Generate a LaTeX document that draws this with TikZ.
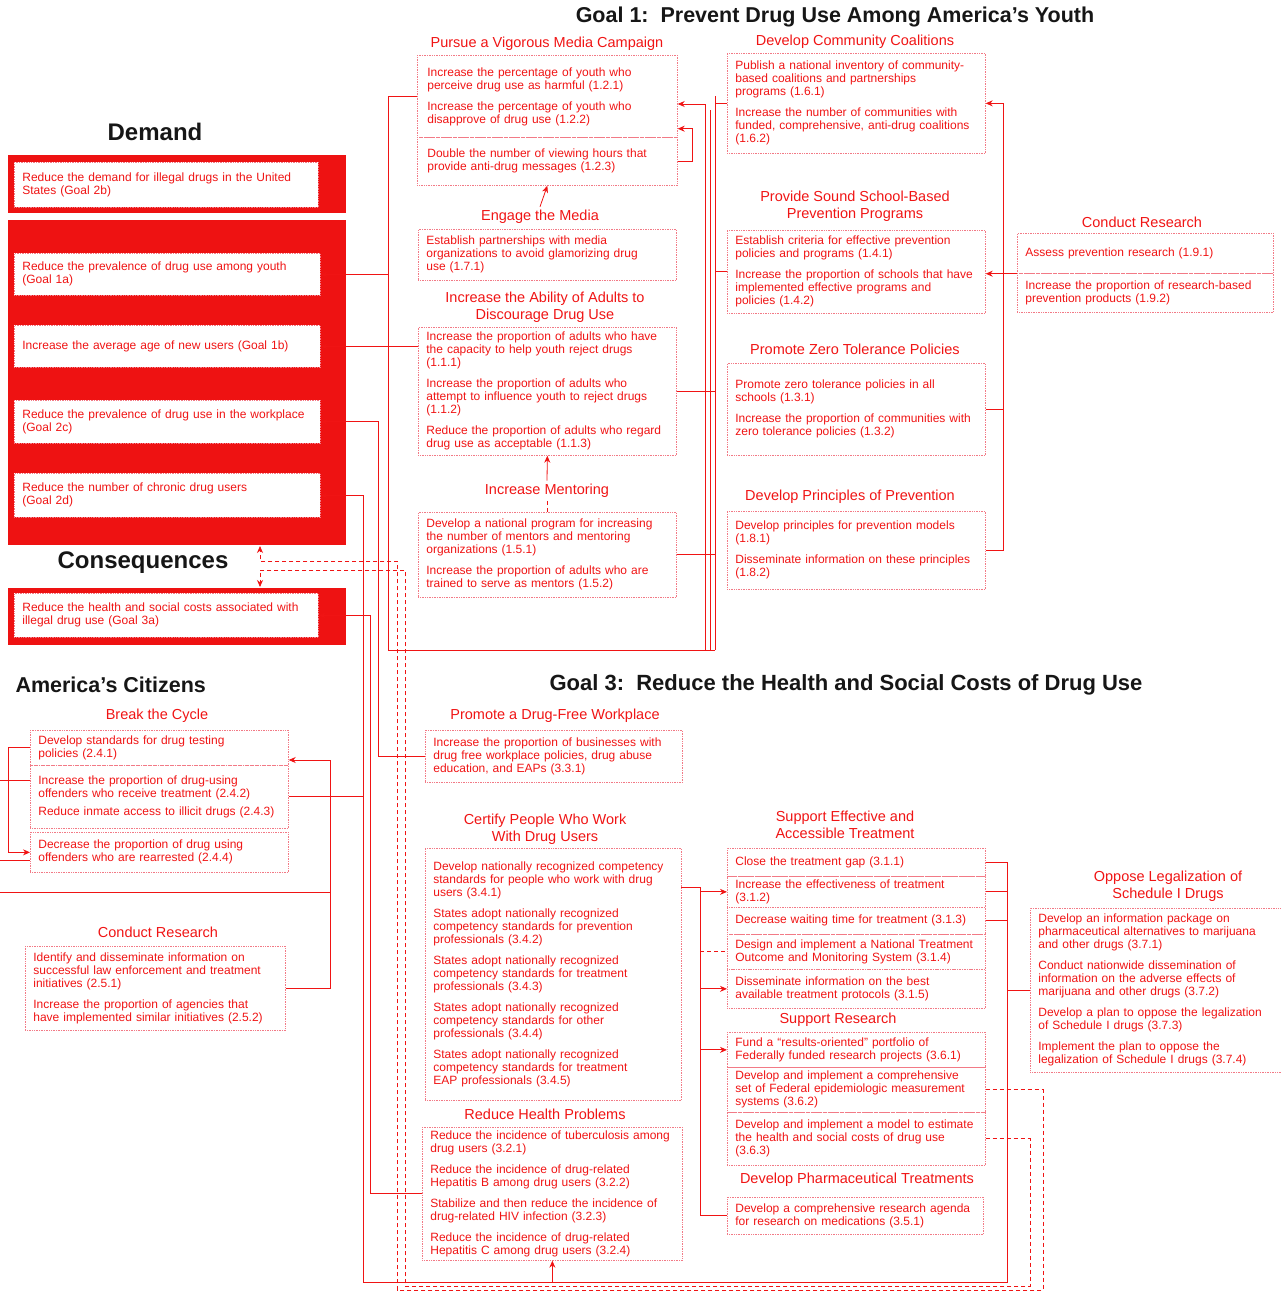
\documentclass[tikz,border=0pt]{standalone}
\usepackage{fontspec}
\setmainfont{Liberation Sans}
\usetikzlibrary{arrows.meta,calc}
\definecolor{PlanRed}{HTML}{F01414}
\definecolor{PanelRed}{HTML}{EE1212}
\definecolor{FrameRed}{HTML}{F27A86}
\definecolor{TitleBlack}{HTML}{161616}
\newcommand{\itemgap}{\\[8pt]}

\begin{document}
\begin{tikzpicture}[x=1pt, y=-1pt, >={Stealth[length=7pt,width=6pt]},
  objbox/.style={draw=FrameRed, line width=0.7pt, densely dotted, anchor=north west,
    align=left, text=PlanRed, font=\fontsize{12}{13}\selectfont, inner xsep=8pt, inner ysep=2pt},
  goalbox/.style={objbox, fill=white},
  objtitle/.style={text=PlanRed, align=center, font=\fontsize{14.5}{17}\selectfont},
  headtitle/.style={text=TitleBlack, font=\fontsize{21.5}{24}\selectfont\bfseries},
  bigtitle/.style={text=TitleBlack, font=\fontsize{24}{26}\selectfont\bfseries},
  redpanel/.style={fill=PanelRed},
  link/.style={PlanRed, line width=0.8pt},
  dlink/.style={PlanRed, line width=0.8pt, dash pattern=on 4pt off 3pt}]
  \useasboundingbox (0,0) rectangle (1281,1293);

  % bus lines used by the connectors
  \coordinate (busA) at (388,0);
  \coordinate (busB) at (363,0);
  \coordinate (busC) at (378,0);
  \coordinate (busD) at (370,0);
  \coordinate (busE) at (700,0);
  \coordinate (busK) at (715,0);
  \coordinate (busR) at (1003,0);
  \coordinate (busT) at (1007,0);
  \coordinate (baseM) at (0,650);
  \coordinate (baseS) at (0,1282);

  % headings
  \node[headtitle] (hGoal1) at (835,17) {Goal 1:\ \ Prevent Drug Use Among America's Youth};
  \node[headtitle, font=\fontsize{22}{24}\selectfont\bfseries] (hGoal3) at (846,685) {Goal 3:\ \ Reduce the Health and Social Costs of Drug Use};
  \node[headtitle, anchor=west] (hCitizens) at (12,685) {America's Citizens};
  \node[bigtitle] (hDemand) at (155,132) {Demand};
  \node[bigtitle] (hConseq) at (143,563) {Consequences};

  % Demand and consequences panels
  \fill[redpanel] (8,155) rectangle (346,213);
  \fill[redpanel] (8,220) rectangle (346,545);
  \fill[redpanel] (8,588) rectangle (346,645);
  \node[goalbox, text width=288pt, minimum height=45pt] (g2b) at (14,162)
    {Reduce the demand for illegal drugs in the United\\States (Goal 2b)};
  \node[goalbox, text width=290pt, minimum height=42pt] (g1a) at (14,253)
    {Reduce the prevalence of drug use among youth\\(Goal 1a)};
  \node[goalbox, text width=290pt, minimum height=42pt] (g1b) at (14,325)
    {Increase the average age of new users (Goal 1b)};
  \node[goalbox, text width=290pt, minimum height=43pt] (g2c) at (14,400)
    {Reduce the prevalence of drug use in the workplace\\(Goal 2c)};
  \node[goalbox, text width=290pt, minimum height=44pt] (g2d) at (14,473)
    {Reduce the number of chronic drug users\\(Goal 2d)};
  \node[goalbox, text width=288pt, minimum height=44pt] (g3a) at (14,593)
    {Reduce the health and social costs associated with\\illegal drug use (Goal 3a)};

  % Goal 1 objectives
  \node[objtitle] (tMedia) at (547,44) {Pursue a Vigorous Media Campaign};
  \node[objbox, text width=240pt, minimum height=82pt, inner xsep=10pt, inner ysep=8pt] (med1) at (417,55)
    {\\[-4pt]Increase the percentage of youth who\\perceive drug use as harmful (1.2.1)\itemgap
     Increase the percentage of youth who\\disapprove of drug use (1.2.2)};
  \node[objbox, text width=240pt, minimum height=48pt, inner xsep=10pt] (med2) at (417,137)
    {Double the number of viewing hours that\\provide anti-drug messages (1.2.3)};
  \node[objtitle] (tEngage) at (540,217) {Engage the Media};
  \node[objbox, text width=242pt, minimum height=51pt] (engage) at (418,229)
    {Establish partnerships with media\\organizations to avoid glamorizing drug\\use (1.7.1)};
  \node[objtitle] (tAdults) at (545,307) {Increase the Ability of Adults to\\Discourage Drug Use};
  \node[objbox, text width=242pt, minimum height=128pt] (adults) at (418,327)
    {Increase the proportion of adults who have\\the capacity to help youth reject drugs\\(1.1.1)\itemgap
     Increase the proportion of adults who\\attempt to influence youth to reject drugs\\(1.1.2)\itemgap
     Reduce the proportion of adults who regard\\drug use as acceptable (1.1.3)};
  \node[objtitle] (tMentor) at (547,491) {Increase Mentoring};
  \node[objbox, text width=242pt, minimum height=85pt] (mentor) at (418,512)
    {Develop a national program for increasing\\the number of mentors and mentoring\\organizations (1.5.1)\itemgap
     Increase the proportion of adults who are\\trained to serve as mentors (1.5.2)};

  \node[objtitle] (tCoal) at (855,42) {Develop Community Coalitions};
  \node[objbox, text width=242pt, minimum height=100pt] (coal) at (727,53)
    {Publish a national inventory of community-\\based coalitions and partnerships\\programs (1.6.1)\itemgap
     Increase the number of communities with\\funded, comprehensive, anti-drug coalitions\\(1.6.2)};
  \node[objtitle] (tSchool) at (855,206) {Provide Sound School-Based\\Prevention Programs};
  \node[objbox, text width=242pt, minimum height=83pt] (school) at (727,230)
    {Establish criteria for effective prevention\\policies and programs (1.4.1)\itemgap
     Increase the proportion of schools that have\\implemented effective programs and\\policies (1.4.2)};
  \node[objtitle] (tZero) at (855,349) {Promote Zero Tolerance Policies};
  \node[objbox, text width=242pt, minimum height=92pt] (zero) at (727,363)
    {Promote zero tolerance policies in all\\schools (1.3.1)\itemgap
     Increase the proportion of communities with\\zero tolerance policies (1.3.2)};
  \node[objtitle] (tPrinc) at (850,497) {Develop Principles of Prevention};
  \node[objbox, text width=242pt, minimum height=78pt] (princ) at (727,511)
    {Develop principles for prevention models\\(1.8.1)\itemgap
     Disseminate information on these principles\\(1.8.2)};
  \node[objtitle] (tCR1) at (1142,222) {Conduct Research};
  \node[objbox, text width=240pt, minimum height=40pt] (cr1) at (1017,233)
    {Assess prevention research (1.9.1)};
  \node[objbox, text width=240pt, minimum height=39pt] (cr2) at (1017,273)
    {Increase the proportion of research-based\\prevention products (1.9.2)};

  % Goal 2 objectives
  \node[objtitle] (tCycle) at (157,716) {Break the Cycle};
  \node[objbox, text width=242pt, minimum height=35pt] (cyc1) at (30,730)
    {Develop standards for drug testing\\policies (2.4.1)};
  \node[objbox, text width=242pt, minimum height=63pt] (cyc2) at (30,765)
    {Increase the proportion of drug-using\\offenders who receive treatment (2.4.2)\\[5pt]
     Reduce inmate access to illicit drugs (2.4.3)};
  \node[objbox, text width=242pt, minimum height=40pt] (cyc3) at (30,832)
    {Decrease the proportion of drug using\\offenders who are rearrested (2.4.4)};
  \node[objtitle] (tCR2) at (158,932) {Conduct Research};
  \node[objbox, text width=244pt, minimum height=84pt] (res2) at (25,946)
    {Identify and disseminate information on\\successful law enforcement and treatment\\initiatives (2.5.1)\itemgap
     Increase the proportion of agencies that\\have implemented similar initiatives (2.5.2)};

  % Goal 3 objectives
  \node[objtitle] (tWork) at (555,716) {Promote a Drug-Free Workplace};
  \node[objbox, text width=241pt, minimum height=52pt] (work) at (425,730)
    {Increase the proportion of businesses with\\drug free workplace policies, drug abuse\\education, and EAPs (3.3.1)};
  \node[objtitle] (tCert) at (545,829) {Certify People Who Work\\With Drug Users};
  \node[objbox, text width=240pt, minimum height=252pt] (cert) at (425,848)
    {Develop nationally recognized competency\\standards for people who work with drug\\users (3.4.1)\itemgap
     States adopt nationally recognized\\competency standards for prevention\\professionals (3.4.2)\itemgap
     States adopt nationally recognized\\competency standards for treatment\\professionals (3.4.3)\itemgap
     States adopt nationally recognized\\competency standards for other\\professionals (3.4.4)\itemgap
     States adopt nationally recognized\\competency standards for treatment\\EAP professionals (3.4.5)};
  \node[objtitle] (tHealth) at (545,1114) {Reduce Health Problems};
  \node[objbox, text width=244pt, minimum height=133pt] (health) at (422,1127)
    {Reduce the incidence of tuberculosis among\\drug users (3.2.1)\itemgap
     Reduce the incidence of drug-related\\Hepatitis B among drug users (3.2.2)\itemgap
     Stabilize and then reduce the incidence of\\drug-related HIV infection (3.2.3)\itemgap
     Reduce the incidence of drug-related\\Hepatitis C among drug users (3.2.4)};

  \node[objtitle] (tTreat) at (845,825) {Support Effective and\\Accessible Treatment};
  \node[objbox, text width=242pt, minimum height=28pt] (tr1) at (727,848)
    {Close the treatment gap (3.1.1)};
  \node[objbox, text width=242pt, minimum height=31pt, inner ysep=1pt] (tr2) at (727,876)
    {Increase the effectiveness of treatment\\(3.1.2)};
  \node[objbox, text width=242pt, minimum height=27pt] (tr3) at (727,907)
    {Decrease waiting time for treatment (3.1.3)};
  \node[objbox, text width=242pt, minimum height=35pt, inner ysep=1pt] (tr4) at (727,934)
    {Design and implement a National Treatment\\Outcome and Monitoring System (3.1.4)};
  \node[objbox, text width=242pt, minimum height=39pt] (tr5) at (727,969)
    {Disseminate information on the best\\available treatment protocols (3.1.5)};
  \node[objtitle] (tSR) at (838,1020) {Support Research};
  \node[objbox, text width=242pt, minimum height=35pt, inner ysep=1pt] (sr1) at (727,1032)
    {Fund a ``results-oriented'' portfolio of\\Federally funded research projects (3.6.1)};
  \node[objbox, text width=242pt, minimum height=45pt] (sr2) at (727,1067)
    {Develop and implement a comprehensive\\set of Federal epidemiologic measurement\\systems (3.6.2)};
  \node[objbox, text width=242pt, minimum height=53pt] (sr3) at (727,1112)
    {Develop and implement a model to estimate\\the health and social costs of drug use\\(3.6.3)};
  \node[objtitle] (tPharm) at (857,1180) {Develop Pharmaceutical Treatments};
  \node[objbox, text width=240pt, minimum height=37pt] (pharm) at (727,1197)
    {Develop a comprehensive research agenda\\for research on medications (3.5.1)};
  \node[objtitle] (tOppose) at (1168,886) {Oppose Legalization of\\Schedule I Drugs};
  \node[objbox, text width=242pt, minimum height=164pt] (oppose) at (1030,908)
    {Develop an information package on\\pharmaceutical alternatives to marijuana\\and other drugs (3.7.1)\itemgap
     Conduct nationwide dissemination of\\information on the adverse effects of\\marijuana and other drugs (3.7.2)\itemgap
     Develop a plan to oppose the legalization\\of Schedule I drugs (3.7.3)\itemgap
     Implement the plan to oppose the\\legalization of Schedule I drugs (3.7.4)};

  % Goal 1 connectors
  \draw[link] (med1.west) -| (busA |- baseM) -- (baseM -| busK);
  \draw[link,->] (busA |- g1a.east) -- (g1a.east);
  \draw[link,->] (adults.west |- g1b.east) -- (g1b.east);
  \draw[link,->] (tEngage.north) -- (med2.south);
  \draw[link,->] (tMentor.north) -- (adults.south);
  \draw[dlink] (tMentor.south) -- (mentor.north -| tMentor.south);
  \draw[link,->] (med2.east) -- ++(15,0) |- ($(med1.south east)+(0,-9)$);
  \draw[link,->] (busK |- baseM) -- (busK |- med1.east) -- ++(-0,0) (705,650) -- (705,104) -- (med1.east |- 0,104);
  \draw[link] (710,650) -- (710,110);
  \draw[link] (adults.east) -- (adults.east -| busK);
  \draw[link] (mentor.east) -- (mentor.east -| busK);
  \draw[link] (coal.west) -| (busK |- school.west) -- (school.west);
  \draw[link,->] (princ.east) -| (busR |- coal.east) -- (coal.east);
  \draw[link] (zero.east) -- (zero.east -| busR);
  \draw[link,->] (cr1.south west) -- (cr1.south west -| school.east);

  % Goal 2 connectors
  \draw[link,->] (cyc1.west) -- ++(-22,0) |- (cyc3.west);
  \draw[link] (0,780) -- (30,780);
  \draw[link] (0,860) -- (30,860);
  \draw[link,->] (res2.east) -| (330,760) -- (cyc1.south east |- 0,760);
  \draw[link] (0,892) -- (330,892);
  \draw[link] (cyc2.east) -- (cyc2.east -| busB);

  % Goal 3 connectors
  \draw[link,->] (work.west) -| (busC |- g2c.east) -- (g2c.east);
  \draw[link,->] (busB |- baseS) -- (busB |- g2d.east) -- (g2d.east);
  \draw[link,->] (health.west) -| (busD |- g3a.east) -- (g3a.east);
  \draw[link] (tr1.east) -| (busT |- baseS) -- (busB |- baseS);
  \draw[link] (tr2.east) -- (tr2.east -| busT);
  \draw[link] (tr3.east) -- (tr3.east -| busT);
  \draw[link] (oppose.west) -- (oppose.west -| busT);
  \draw[link,->] (health.south |- baseS) -- (health.south);
  \draw[link] (681,887) -- (busE |- 0,887) -- (busE |- pharm.west) -- (pharm.west);
  \draw[link,->] (busE |- tr2.west) -- (tr2.west);
  \draw[link,->] (busE |- tr5.west) -- (tr5.west);
  \draw[link,->] (busE |- sr1.west) -- (sr1.west);
  \draw[dlink] (busE |- tr4.west) -- (tr4.west);

  % measurement links to the goals
  \draw[dlink,->] (sr2.east) -| (1043,1290) -| (397,561) -| (260,546);
  \draw[dlink,->] (sr3.east) -| (1030,1286) -| (405,570) -| (260,587);
\end{tikzpicture}
\end{document}
